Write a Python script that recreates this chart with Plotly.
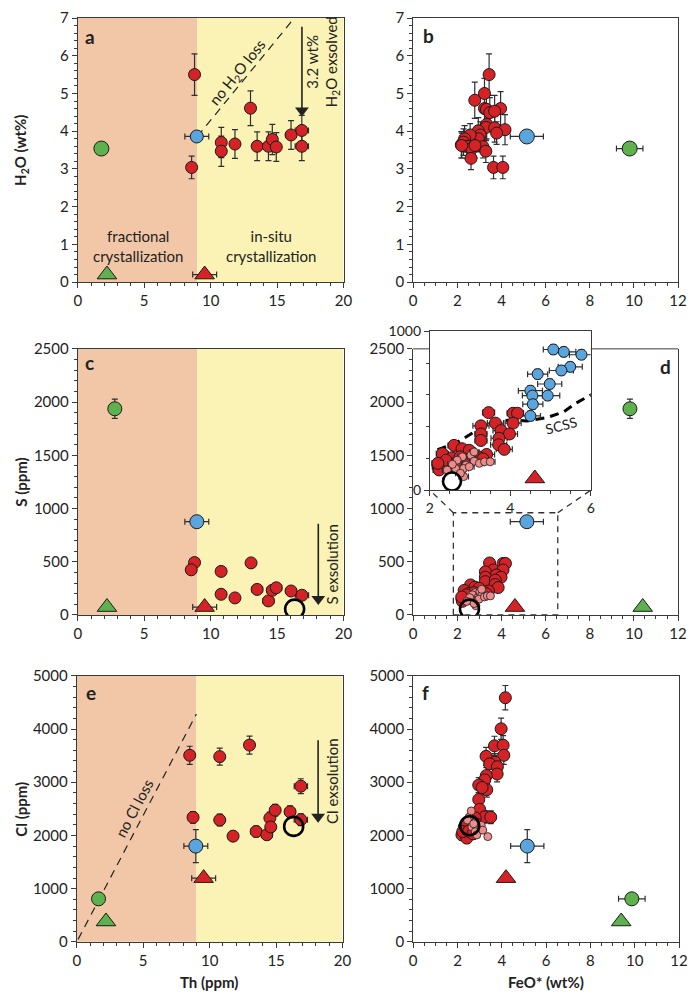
import plotly.graph_objects as go

# target window and the 8px default page margin around the figure
WIN_W, WIN_H = 697, 1005
PAD = 8
W, H = WIN_W - 2 * PAD, WIN_H - 2 * PAD

# ---------------- data ----------------
# Panel a / c / e : Th (ppm) of melt inclusions (red)
th_red = [8.57, 8.79, 10.8, 10.8, 11.83, 13.0, 13.5, 14.35, 14.64, 14.94, 16.05, 16.86, 16.86]
# panel a H2O
a_h2o = [3.04, 5.50, 3.70, 3.47, 3.66, 4.61, 3.60, 3.60, 3.78, 3.58, 3.90, 4.02, 3.60]
a_h2o_err = [0.30, 0.55, 0.40, 0.40, 0.38, 0.46, 0.38, 0.38, 0.40, 0.38, 0.38, 0.40, 0.38]
a_th_err = [0, 0, 0, 0, 0, 0.3, 0, 0, 0.3, 0, 0.4, 0.5, 0.5]
# panel c S
c_th = [8.79, 8.54, 10.79, 13.04, 10.79, 11.83, 13.5, 14.35, 14.64, 14.94, 16.05, 16.87]
c_s = [492, 424, 409, 489, 194, 160, 240, 132, 231, 255, 225, 185]
c_th_err = [0, 0, 0, 0.3, 0, 0, 0.4, 0.4, 0.4, 0.4, 0.4, 0.5]
# panel e Cl
e_th = [8.5, 8.75, 10.76, 10.76, 11.76, 13.0, 13.5, 14.3, 14.53, 14.6, 14.93, 16.05, 16.86, 16.86]
e_cl = [3506, 2340, 3481, 2290, 1987, 3698, 2074, 2013, 2327, 2160, 2475, 2444, 2926, 2296]
e_cl_err = [170, 110, 160, 110, 90, 170, 100, 90, 110, 100, 110, 110, 140, 110]
e_th_err = [0, 0.3, 0, 0.3, 0.3, 0.3, 0.4, 0.4, 0.3, 0.3, 0.3, 0.4, 0.5, 0.5]

# Reference compositions (blue circle, green circle, triangles, open circle)
blue_th, blue_feo = 8.96, 5.15
blue_h2o, blue_s, blue_cl = 3.86, 876, 1800
green_th_a, green_h2o, green_feo_b = 1.78, 3.54, 9.81
green_th_c, green_s, green_feo_d = 2.79, 1937, 9.82
green_th_e, green_cl, green_feo_f = 1.64, 809, 9.87
gtri_th, gtri_feo_d, gtri_feo_f = 2.2, 10.4, 9.39
gtri_h2o, gtri_s, gtri_cl = 0.2, 74, 383
rtri_th, rtri_feo_d, rtri_feo_f = 9.55, 4.61, 4.19
rtri_h2o, rtri_s, rtri_cl = 0.2, 74, 1198
open_th, open_feo = 16.32, 2.55
open_s, open_cl, open_cl_f = 55, 2170, 2183

# Panel b: FeO* vs H2O (red)
b_feo = [3.44, 3.23, 2.79, 3.23, 3.32, 3.96, 3.47, 3.69, 3.33, 3.30, 3.69, 4.16, 3.78, 2.95, 3.04,
         2.95, 2.58, 2.33, 2.18, 2.28, 2.43, 2.65, 3.16, 3.29, 2.62, 2.80, 3.64, 4.06, 2.20]
b_h2o = [5.50, 5.00, 4.82, 4.60, 4.58, 4.60, 4.49, 4.53, 4.18, 4.10, 4.09, 4.04, 3.95, 4.01, 3.90,
         3.80, 3.90, 3.80, 3.64, 3.71, 3.60, 3.54, 3.59, 3.47, 3.28, 3.62, 3.04, 3.04, 3.62]
b_h2o_err = [0.55, 0.40, 0.48, 0.40, 0.38, 0.45, 0.40, 0.42, 0.38, 0.35, 0.38, 0.40, 0.30, 0.35, 0.35,
             0.35, 0.30, 0.35, 0.35, 0.35, 0.33, 0.32, 0.30, 0.30, 0.30, 0.33, 0.30, 0.30, 0.33]

# Panel d / inset: FeO* vs S
d_red_feo = [3.46, 4.07, 4.18, 3.63, 3.27, 4.07, 3.77, 3.27, 3.98, 3.27, 3.72, 3.71, 3.85, 2.60, 2.80,
             2.98, 3.41, 3.19, 3.32, 2.31, 2.55, 2.75, 2.43, 2.21, 2.23, 2.40, 2.80, 2.20, 2.96]
d_red_s = [488, 484, 484, 422, 405, 422, 375, 354, 354, 313, 327, 286, 257, 282, 261,
           251, 225, 212, 198, 230, 204, 210, 169, 148, 128, 189, 179, 169, 189]
d_red_feo_err = [0.15, 0.15, 0.15, 0.2, 0.2, 0.2, 0.2, 0.15, 0.2, 0.15, 0.2, 0.2, 0.2, 0.15, 0.15,
                 0.15, 0.2, 0.15, 0.15, 0.15, 0.15, 0.15, 0.15, 0.15, 0.15, 0.15, 0.15, 0.15, 0.15]
d_pink_feo = [2.81, 2.68, 2.90, 3.02, 3.10, 2.84, 2.64, 2.56, 2.98, 3.23, 3.36, 3.50, 3.10, 2.43, 2.84, 2.76]
d_pink_s = [210, 189, 158, 220, 183, 137, 137, 163, 148, 169, 179, 179, 241, 127, 86, 107]
ins_blue_feo = [5.07, 5.33, 5.77, 5.49, 5.27, 4.68, 4.98, 4.50, 4.93, 4.55, 4.56, 4.50]
ins_blue_s = [885, 870, 852, 776, 753, 730, 668, 626, 595, 595, 541, 467]
ins_blue_feo_err = [0.25, 0.3, 0.3, 0.3, 0.3, 0.25, 0.3, 0.3, 0.3, 0.25, 0.25, 0.25]
scss_feo = [2.19, 2.63, 3.20, 3.61, 4.02, 4.42, 4.91, 5.32, 5.64, 6.05]
scss_s = [255, 293, 382, 432, 442, 436, 457, 492, 549, 605]

# Panel f: FeO* vs Cl
f_red_feo = [4.16, 3.97, 3.67, 4.06, 3.29, 4.09, 3.69, 3.45, 3.80, 3.79, 3.30, 3.23, 2.96, 3.32, 3.11,
             2.96, 3.00, 3.23, 3.50, 2.80, 2.58, 2.31, 2.20, 2.42, 2.24, 2.50, 2.70, 2.83]
f_red_cl = [4588, 4004, 3684, 3696, 3487, 3505, 3376, 3345, 3290, 3155, 3124, 3044, 2946, 2860, 2900,
            2675, 2490, 2349, 2343, 2330, 2290, 2163, 2011, 1950, 2072, 2080, 2030, 2220]
f_red_cl_err = [230, 200, 180, 180, 170, 170, 160, 160, 160, 150, 150, 150, 140, 140, 140,
                130, 120, 120, 120, 110, 110, 100, 100, 100, 100, 100, 100, 110]
f_pink_feo = [3.37, 2.80, 2.65, 2.52, 2.93, 2.80, 2.62, 3.07, 2.45, 2.73, 2.87, 3.14]
f_pink_cl = [1978, 2250, 2160, 2340, 2130, 2070, 2460, 2190, 2290, 2220, 2010, 2100]

# guide lines and arrows
noh2o_th = [9.0, 16.3]
noh2o_h2o = [3.86, 7.0]
nocl_th = [0.1, 9.0]
nocl_cl = [47, 4280]
arrow_a_x, arrow_a_y = [16.87, 16.87], [6.77, 4.55]
arrow_c_x, arrow_c_y = [18.1, 18.1], [857, 150]
arrow_e_x, arrow_e_y = [18.16, 18.16], [3790, 2350]

# ---------------- style ----------------
RED = "#D42227"
BLUE = "#5AA5DE"
GREEN = "#5DB24E"
PINK = "#EE8C8C"
SALMON = "#F1C7A7"
YELLOW = "#FAF3B5"
AX = "#3a3a3a"
EB = "#2f2f2f"
FONT = "Lato"


def PX(p):
    return (p - PAD) / W


def PY(p):
    return 1 - (p - PAD) / H


def dom_x(p0, p1):
    return [max(0, PX(p0)), min(1, PX(p1))]


def dom_y(top, bottom):
    return [max(0, PY(bottom)), min(1, PY(top))]


fig = go.Figure()


def err(arr, w=3):
    return dict(type="data", array=arr, color=EB, thickness=1.2, width=w, visible=True)


def circ(x, y, color, size, xa, ya, ex=None, ey=None, lw=1):
    t = go.Scatter(x=x, y=y, mode="markers", xaxis=xa, yaxis=ya, showlegend=False, hoverinfo="skip",
                   marker=dict(color=color, size=size, line=dict(color="#1a1a1a", width=lw)))
    if ex is not None:
        t.error_x = err(ex)
    if ey is not None:
        t.error_y = err(ey)
    fig.add_trace(t)


def tri(x, y, color, xa, ya, ex=None):
    t = go.Scatter(x=x, y=y, mode="markers", xaxis=xa, yaxis=ya, showlegend=False, hoverinfo="skip",
                   marker=dict(color=color, size=17, symbol="triangle-up",
                               line=dict(color="#1a1a1a", width=1)))
    if ex is not None:
        t.error_x = err(ex)
    fig.add_trace(t)


def opencirc(x, y, xa, ya, size=19):
    fig.add_trace(go.Scatter(x=x, y=y, mode="markers", xaxis=xa, yaxis=ya, showlegend=False,
                             hoverinfo="skip",
                             marker=dict(color="rgba(0,0,0,0)", size=size,
                                         line=dict(color="#000000", width=2.6))))


def dline(x, y, xa, ya, width=1.2, dash="dash", color="#222"):
    fig.add_trace(go.Scatter(x=x, y=y, mode="lines", xaxis=xa, yaxis=ya, showlegend=False,
                             hoverinfo="skip", line=dict(color=color, width=width, dash=dash)))


def arrowline(x, y, xa, ya):
    fig.add_trace(go.Scatter(x=x, y=y, mode="lines", xaxis=xa, yaxis=ya, showlegend=False,
                             hoverinfo="skip", line=dict(color="#222", width=1.6)))
    fig.add_trace(go.Scatter(x=x[-1:], y=y[-1:], mode="markers", xaxis=xa, yaxis=ya, showlegend=False,
                             hoverinfo="skip",
                             marker=dict(symbol="triangle-down", size=12, color="#222",
                                         line=dict(width=0))))


# ---- panel a ----
dline(noh2o_th, noh2o_h2o, "x", "y", dash="8px,6px")
arrowline(arrow_a_x, arrow_a_y, "x", "y")
tri([gtri_th], [gtri_h2o], GREEN, "x", "y")
tri([rtri_th], [rtri_h2o], RED, "x", "y", ex=[0.9])
circ([green_th_a], [green_h2o], GREEN, 15, "x", "y", ey=[0.08])
circ([blue_th], [blue_h2o], BLUE, 13, "x", "y", ex=[0.9])
circ(th_red, a_h2o, RED, 12, "x", "y", ex=a_th_err, ey=a_h2o_err)

# ---- panel b ----
circ(b_feo, b_h2o, RED, 12, "x2", "y2", ey=b_h2o_err)
circ([blue_feo], [blue_h2o], BLUE, 15, "x2", "y2", ex=[0.75])
circ([green_feo_b], [green_h2o], GREEN, 15, "x2", "y2", ex=[0.6], ey=[0.08])

# ---- panel c ----
arrowline(arrow_c_x, arrow_c_y, "x3", "y3")
tri([gtri_th], [gtri_s], GREEN, "x3", "y3")
tri([rtri_th], [rtri_s], RED, "x3", "y3", ex=[0.9])
circ([green_th_c], [green_s], GREEN, 14, "x3", "y3", ey=[90])
circ([blue_th], [blue_s], BLUE, 14, "x3", "y3", ex=[0.9])
circ(c_th, c_s, RED, 12, "x3", "y3", ex=c_th_err)
opencirc([open_th], [open_s], "x3", "y3")

# ---- panel d (main) ----
circ(d_red_feo, d_red_s, RED, 12, "x4", "y4")
circ(d_pink_feo, d_pink_s, PINK, 8, "x4", "y4", lw=0.8)
opencirc([open_feo], [open_s], "x4", "y4")
circ([blue_feo], [blue_s], BLUE, 14, "x4", "y4", ex=[0.75])
circ([green_feo_d], [green_s], GREEN, 14, "x4", "y4", ey=[90])
tri([rtri_feo_d], [rtri_s], RED, "x4", "y4")
tri([gtri_feo_d], [gtri_s], GREEN, "x4", "y4")

# ---- inset ----
dline(scss_feo, scss_s, "x7", "y7", width=3, dash="9px,6px", color="#000")
circ(ins_blue_feo, ins_blue_s, BLUE, 11, "x7", "y7", ex=ins_blue_feo_err, ey=[30] * len(ins_blue_s))
circ(d_red_feo, d_red_s, RED, 12, "x7", "y7", ex=d_red_feo_err)
circ(d_pink_feo, d_pink_s, PINK, 8, "x7", "y7", ex=[0.12] * len(d_pink_s), lw=0.8)
opencirc([open_feo], [open_s], "x7", "y7", size=18)
tri([rtri_feo_d], [rtri_s], RED, "x7", "y7")

# ---- panel e ----
dline(nocl_th, nocl_cl, "x5", "y5", dash="8px,6px")
arrowline(arrow_e_x, arrow_e_y, "x5", "y5")
tri([gtri_th], [gtri_cl], GREEN, "x5", "y5")
circ([green_th_e], [green_cl], GREEN, 14, "x5", "y5")
circ([blue_th], [blue_cl], BLUE, 14, "x5", "y5", ex=[0.9], ey=[310])
tri([rtri_th], [rtri_cl], RED, "x5", "y5", ex=[0.9])
circ(e_th, e_cl, RED, 12, "x5", "y5", ex=e_th_err, ey=e_cl_err)
opencirc([open_th], [open_cl], "x5", "y5")

# ---- panel f ----
circ(f_red_feo, f_red_cl, RED, 12, "x6", "y6", ey=f_red_cl_err)
circ(f_pink_feo, f_pink_cl, PINK, 8, "x6", "y6", lw=0.8)
opencirc([open_feo], [open_cl_f], "x6", "y6")
circ([blue_feo], [blue_cl], BLUE, 14, "x6", "y6", ex=[0.75], ey=[310])
tri([rtri_feo_f], [rtri_cl], RED, "x6", "y6")
circ([green_feo_f], [green_cl], GREEN, 14, "x6", "y6", ex=[0.6])
tri([gtri_feo_f], [gtri_cl], GREEN, "x6", "y6")

# ---------------- axes ----------------
tickfont = dict(family=FONT, size=15, color="#222")


def axis(domain, rng, dtick, minor, anchor, mirror=True, tickvals=None, font=tickfont):
    d = dict(domain=domain, range=rng, anchor=anchor, showline=True, linecolor=AX, linewidth=1,
             mirror=mirror, ticks="outside", ticklen=5, tickwidth=1, tickcolor=AX,
             showgrid=False, zeroline=False, tickfont=font, fixedrange=True,
             ticklabeloverflow="allow",
             minor=dict(dtick=minor, ticks="outside", ticklen=3, tickwidth=1, tickcolor=AX, showgrid=False))
    if tickvals is not None:
        d["tickmode"] = "array"
        d["tickvals"] = tickvals
    else:
        d["dtick"] = dtick
        d["tick0"] = 0
    return d


XL = dom_x(75, 346)
XR = dom_x(417, 687)
YT = dom_y(8, 277)
YM = dom_y(345, 616)
YB = dom_y(678, 949)
XE = dom_x(74, 345)
XF = dom_x(417, 688)
XI = dom_x(434, 598)
YI = dom_y(327, 489)

layout = dict(
    width=W, height=H, margin=dict(l=0, r=0, t=0, b=0), autosize=False,
    paper_bgcolor="white", plot_bgcolor="white", hovermode=False,
    xaxis=axis(XL, [0, 20], 5, 1, "y"),
    yaxis=axis(YT, [0, 7], 1, 0.2, "x"),
    xaxis2=axis(XR, [0, 12], 2, 0.5, "y2"),
    yaxis2=axis(YT, [0, 7], 1, 0.2, "x2"),
    xaxis3=axis(XL, [0, 20], 5, 1, "y3"),
    yaxis3=axis(YM, [0, 2500], 500, 100, "x3"),
    xaxis4=axis(XR, [0, 12], 2, 0.5, "y4", mirror=False),
    yaxis4=axis(YM, [0, 2500], 500, 100, "x4"),
    xaxis5=axis(XE, [0, 20], 5, 1, "y5"),
    yaxis5=axis(YB, [0, 5000], 1000, 200, "x5"),
    xaxis6=axis(XF, [0, 12], 2, 0.5, "y6"),
    yaxis6=axis(YB, [0, 5000], 1000, 200, "x6"),
    xaxis7=axis(XI, [2, 6], 2, 0.5, "y7", font=dict(family=FONT, size=14, color="#222")),
    yaxis7=axis(YI, [0, 1000], None, 200, "x7", tickvals=[0, 1000],
                font=dict(family=FONT, size=14, color="#222")),
)
fig.update_layout(**layout)

# ---------------- shapes ----------------
shapes = []
for xr, yr in [("x", "y"), ("x3", "y3"), ("x5", "y5")]:
    shapes.append(dict(type="rect", xref=xr, yref=yr + " domain", x0=0, x1=9, y0=0, y1=1,
                       fillcolor=SALMON, line=dict(width=0), layer="below"))
    shapes.append(dict(type="rect", xref=xr, yref=yr + " domain", x0=9, x1=20, y0=0, y1=1,
                       fillcolor=YELLOW, line=dict(width=0), layer="below"))

# top border of panel d (interrupted by the inset)
ytop_d = YM[1]
shapes.append(dict(type="line", xref="paper", yref="paper", x0=XR[0], x1=XI[0], y0=ytop_d, y1=ytop_d,
                   line=dict(color=AX, width=1)))
shapes.append(dict(type="line", xref="paper", yref="paper", x0=XI[1], x1=XR[1], y0=ytop_d, y1=ytop_d,
                   line=dict(color=AX, width=1)))

# zoom box in panel d and connectors to inset
zx0, zx1, zy0, zy1 = 1.82, 6.55, 0, 960
box_dash = dict(color="#333", width=1.3, dash="6px,5px")
shapes.append(dict(type="rect", xref="x4", yref="y4", x0=zx0, x1=zx1, y0=zy0, y1=zy1,
                   line=box_dash, fillcolor="rgba(0,0,0,0)"))


def paper_to_d(px_paper, py_paper):
    xd = (px_paper - XR[0]) / (XR[1] - XR[0]) * 12
    yd = (py_paper - YM[0]) / (YM[1] - YM[0]) * 2500
    return xd, yd


ilx, ily = paper_to_d(XI[0], YI[0])
irx, iry = paper_to_d(XI[1], YI[0])
shapes.append(dict(type="line", xref="x4", yref="y4", x0=zx0, y0=zy1, x1=ilx, y1=ily, line=box_dash))
shapes.append(dict(type="line", xref="x4", yref="y4", x0=zx1, y0=zy1, x1=irx, y1=iry, line=box_dash))
fig.update_layout(shapes=shapes)

# ---------------- annotations ----------------
ann = []


def label(txt, xr, yr, xd, yd):
    ann.append(dict(text="<b>%s</b>" % txt, xref=xr + " domain", yref=yr + " domain", x=xd, y=yd,
                    showarrow=False, font=dict(family=FONT, size=19, color="#222"),
                    xanchor="center", yanchor="middle"))


label("a", "x", "y", 0.048, 0.93)
label("b", "x2", "y2", 0.058, 0.932)
label("c", "x3", "y3", 0.045, 0.947)
label("d", "x4", "y4", 0.952, 0.932)
label("e", "x5", "y5", 0.053, 0.937)
label("f", "x6", "y6", 0.048, 0.937)


def text(t, xr, yr, x, y, angle=0, size=15):
    ann.append(dict(text=t, xref=xr, yref=yr, x=x, y=y, showarrow=False, textangle=angle,
                    font=dict(family=FONT, size=size, color="#222"), xanchor="center", yanchor="middle"))


text("fractional<br>crystallization", "x", "y", 4.57, 0.96)
text("in-situ<br>crystallization", "x", "y", 14.57, 0.96)
text("no H<sub>2</sub>O loss", "x", "y", 12.0, 5.55, angle=-51)
text("3.2 wt%<br>H<sub>2</sub>O exsolved", "x", "y", 18.45, 5.85, angle=-90)
text("S exsolution", "x3", "y3", 19.1, 470, angle=-90)
text("SCSS", "x7", "y7", 5.25, 410, angle=-15, size=14)
text("no Cl loss", "x5", "y5", 4.3, 2520, angle=-62)
text("Cl exsolution", "x5", "y5", 19.26, 3018, angle=-90)

# axis titles
tt = dict(family=FONT, size=15, color="#222")
for t, yc in [("H<sub>2</sub>O (wt%)", (YT[0] + YT[1]) / 2), ("S (ppm)", (YM[0] + YM[1]) / 2),
              ("Cl (ppm)", (YB[0] + YB[1]) / 2)]:
    ann.append(dict(text="<b>%s</b>" % t, xref="paper", yref="paper", x=PX(17), y=yc, showarrow=False,
                    textangle=-90, font=tt, xanchor="center", yanchor="middle"))
for t, xc in [("Th (ppm)", (XE[0] + XE[1]) / 2), ("FeO* (wt%)", (XF[0] + XF[1]) / 2)]:
    ann.append(dict(text="<b>%s</b>" % t, xref="paper", yref="paper", x=xc, y=PY(990),
                    showarrow=False, font=tt, xanchor="center", yanchor="middle"))

fig.update_layout(annotations=ann)
fig.write_html("out.html", config={"displayModeBar": False, "staticPlot": True})
